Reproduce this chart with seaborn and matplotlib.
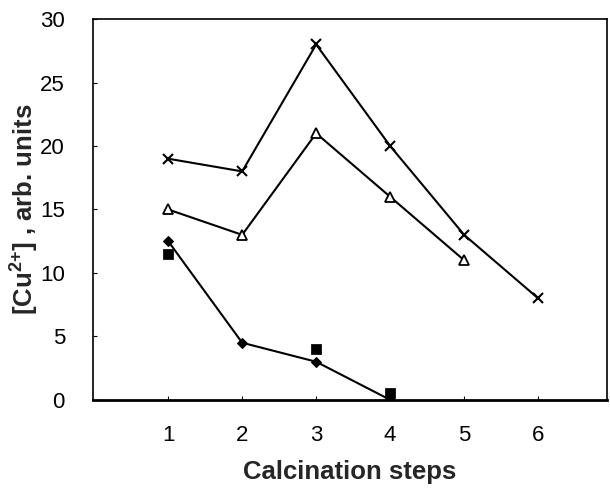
import matplotlib
matplotlib.use("Agg")
import matplotlib.pyplot as plt
import seaborn as sns
import pandas as pd

steps_x = [1, 2, 3, 4, 5, 6]
cross_y = [19, 18, 28, 20, 13, 8]
steps_tri = [1, 2, 3, 4, 5]
tri_y = [15, 13, 21, 16, 11]
steps_dia = [1, 2, 3, 4]
dia_y = [12.5, 4.5, 3, 0]
steps_sq = [1, 3, 4]
sq_y = [11.5, 4, 0.5]

sns.set_theme(style="white")
plt.rcParams['font.family'] = ['Liberation Sans', 'DejaVu Sans']
plt.rcParams['mathtext.fontset'] = 'custom'
plt.rcParams['mathtext.bf'] = 'Liberation Sans:bold'
plt.rcParams['mathtext.rm'] = 'Liberation Sans'

fig = plt.figure(figsize=(6.1, 4.9), dpi=100)
ax = fig.add_axes([0.152, 0.184, 0.843, 0.777])

df_x = pd.DataFrame({"x": steps_x, "y": cross_y})
df_t = pd.DataFrame({"x": steps_tri, "y": tri_y})
df_d = pd.DataFrame({"x": steps_dia, "y": dia_y})
df_s = pd.DataFrame({"x": steps_sq, "y": sq_y})

sns.lineplot(data=df_x, x="x", y="y", ax=ax, color="black", lw=1.5,
             marker="x", markersize=7, markeredgewidth=1.5, markeredgecolor="black")
sns.lineplot(data=df_t, x="x", y="y", ax=ax, color="black", lw=1.5,
             marker="^", markersize=7, markerfacecolor="white",
             markeredgewidth=1.3, markeredgecolor="black")
sns.lineplot(data=df_d, x="x", y="y", ax=ax, color="black", lw=1.5,
             marker="D", markersize=5, markerfacecolor="black", markeredgecolor="black")
sns.scatterplot(data=df_s, x="x", y="y", ax=ax, color="black", marker="s",
                s=45, edgecolor="black", zorder=5)

ax.set_xlim(-0.02, 6.93)
ax.set_ylim(0, 30)
ax.set_xticks(steps_x)
ax.set_yticks([0, 5, 10, 15, 20, 25, 30])
ax.tick_params(axis="both", direction="in", length=3, width=0.8, labelsize=16,
               colors="black", bottom=True, left=True)
ax.tick_params(axis="x", pad=18)
ax.tick_params(axis="y", pad=20)
for s in ax.spines.values():
    s.set_color("black")
    s.set_linewidth(1.2)
ax.spines["bottom"].set_linewidth(2)

ax.set_xlabel("Calcination steps", fontsize=18.5, fontweight="bold", labelpad=10)
ax.set_ylabel(r"[Cu$^{\mathbf{2{+}}}$] , arb. units", fontsize=18.5, fontweight="bold", labelpad=0)
ax.grid(False)

fig.savefig("out.png", dpi=100)
